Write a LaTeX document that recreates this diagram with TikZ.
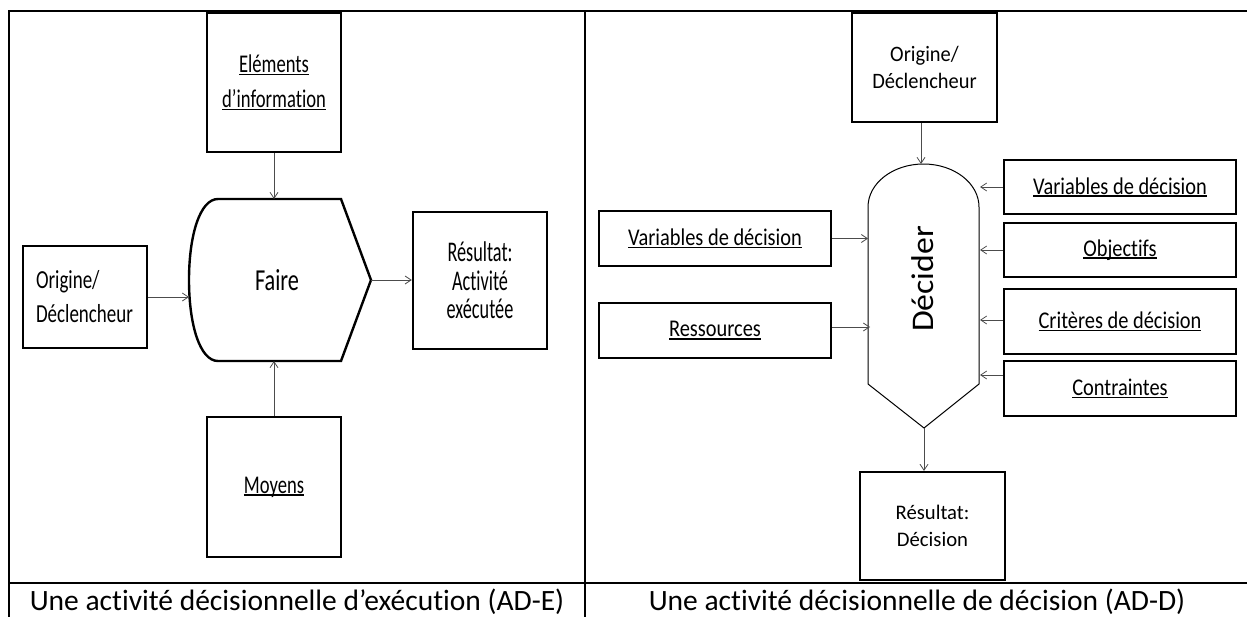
\documentclass[tikz,border=0pt]{standalone}
\usepackage{fontspec}
\setmainfont{Carlito}[Ligatures=NoCommon]
\newfontfamily\fA{Carlito}[FakeStretch=0.73,Ligatures=NoCommon]
\newfontfamily\fB{Carlito}[FakeStretch=0.64,Ligatures=NoCommon]
\newfontfamily\fC{Carlito}[FakeStretch=0.85,Ligatures=NoCommon]
\newfontfamily\fE{Carlito}[FakeStretch=0.93,Ligatures=NoCommon]
\newfontfamily\fD{Carlito}[FakeStretch=1.07,Ligatures=NoCommon]
\usetikzlibrary{arrows.meta}
\newcommand\ulx[1]{\setbox0=\hbox{#1}\rlap{\rule[-0.11em]{\wd0}{0.065em}}\box0}
\begin{document}
\begin{tikzpicture}[x=1pt,y=-1pt,
  frame/.style={line width=2.8pt},
  lbox/.style={draw, line width=2.4pt, inner sep=0pt, align=center},
  rbox/.style={draw, line width=2.1pt, inner sep=0pt, align=center},
  arr/.style={draw=black!70, line width=0.8pt, -{Straight Barb[length=6pt,width=8pt]}},
  capt/.style={anchor=base, font=\fontsize{29.5}{35}\selectfont},
]
\useasboundingbox (0,0) rectangle (1247,616);
\clip (0,0) rectangle (1247,616);

% frame
\draw[frame] (9,640) -- (9,11) -- (1270,11);
\draw[frame] (585,11) -- (585,640);
\draw[frame] (9,583) -- (1270,583);

% captions
\node[capt] (capL) at (297,610) {Une activité décisionnelle d’exécution (AD-E)};
\node[capt] (capR) at (917,610) {Une activité décisionnelle de décision (AD-D)};

% ---------- left panel ----------
\node[lbox, minimum width=134pt, minimum height=139pt, font=\fA\fontsize{25.5}{35}\selectfont] (el) at (274,82.5) {\ulx{Eléments}\\\ulx{d’information}};
\node[lbox, minimum width=124pt, minimum height=102pt, text width=98pt, align=left, font=\fA\fontsize{26}{34}\selectfont] (orL) at (85,297) {Origine/\\Déclencheur};
\node[lbox, minimum width=134pt, minimum height=137pt, font=\fB\fontsize{28.5}{28.5}\selectfont] (resL) at (480,280.5) {Résultat:\\Activité\\exécutée};
\node[lbox, minimum width=134pt, minimum height=140pt, font=\fA\fontsize{25.5}{35}\selectfont] (moy) at (274,487) {\ulx{Moyens}};

\coordinate (fTL) at (218,199);
\coordinate (fTR) at (341,199);
\coordinate (fTip) at (371,280);
\coordinate (fBR) at (341,361);
\coordinate (fBL) at (218,361);
\coordinate (fL) at (189,280);
\draw[line width=2.4pt, line join=miter] (fTL) -- (fTR) -- (fTip) -- (fBR) -- (fBL)
   .. controls (200,361) and (189,325) .. (fL)
   .. controls (189,235) and (200,199) .. cycle;
\node[font=\fA\fontsize{30.5}{36}\selectfont] (faire) at (277,280) {Faire};

\draw[arr] (el.south) -- (el.south |- fTL);
\draw[arr] (orL.east) -- (orL.east -| fL);
\draw[arr] (fTip) -- (fTip -| resL.west);
\draw[arr] (moy.north) -- (moy.north |- fBL);

% ---------- right panel ----------
\node[rbox, minimum width=145pt, minimum height=109pt, font=\fE\fontsize{22}{26.7}\selectfont] (orR) at (924.5,67.5) {Origine/\\Déclencheur};
\node[rbox, minimum width=232pt, minimum height=55pt, font=\fC\fontsize{24}{28}\selectfont] (vdL) at (715,238.5) {\ulx{Variables de décision}};
\node[rbox, minimum width=232pt, minimum height=55pt, font=\fC\fontsize{24}{28}\selectfont] (resc) at (715,330.5) {\ulx{Ressources}};
\node[rbox, minimum width=232pt, minimum height=54pt, font=\fC\fontsize{24}{28}\selectfont] (vdR) at (1120,187) {\ulx{Variables de décision}};
\node[rbox, minimum width=232pt, minimum height=54pt, font=\fC\fontsize{24}{28}\selectfont] (obj) at (1120,250) {\ulx{Objectifs}};
\node[rbox, minimum width=232pt, minimum height=65pt, font=\fC\fontsize{24}{28}\selectfont] (cri) at (1120,321.5) {\ulx{Critères de décision}};
\node[rbox, minimum width=232pt, minimum height=55pt, font=\fC\fontsize{24}{28}\selectfont] (con) at (1120,388.5) {\ulx{Contraintes}};
\node[rbox, minimum width=145pt, minimum height=108pt, font=\fontsize{20.7}{26.7}\selectfont] (resD) at (932.5,526) {Résultat:\\Décision};

\coordinate (dTL) at (868,207);
\coordinate (dTR) at (979,207);
\coordinate (dBR) at (979,384);
\coordinate (dBL) at (868,384);
\coordinate (dTip) at (924,428);
\coordinate (dTop) at (923.5,164);
\draw[line width=1pt] (dBL) -- (dTL) arc[start angle=180, end angle=360, x radius=55.5, y radius=43] -- (dBR) -- (dTip) -- cycle;
\node[rotate=90, font=\fD\fontsize{31.5}{36}\selectfont] (dec) at (923,279) {Décider};

\draw[arr] ([xshift=-3.5pt]orR.south) -- ([xshift=-3.5pt]orR.south |- dTop);
\draw[arr] (vdL.east) -- (vdL.east -| dTL);
\draw[arr] ([yshift=3.5pt]resc.east) -- ([yshift=3.5pt,xshift=2pt]resc.east -| dTL);
\draw[arr] (vdR.west) -- ([xshift=1pt]vdR.west -| dTR);
\draw[arr] (obj.west) -- ([xshift=1pt]obj.west -| dTR);
\draw[arr] ([yshift=1.5pt]cri.west) -- ([yshift=1.5pt,xshift=1pt]cri.west -| dTR);
\draw[arr] ([yshift=13.5pt]con.west) -- ([yshift=13.5pt,xshift=1pt]con.west -| dTR);
\draw[arr] (dTip) -- (dTip |- resD.north);
\end{tikzpicture}
\end{document}
